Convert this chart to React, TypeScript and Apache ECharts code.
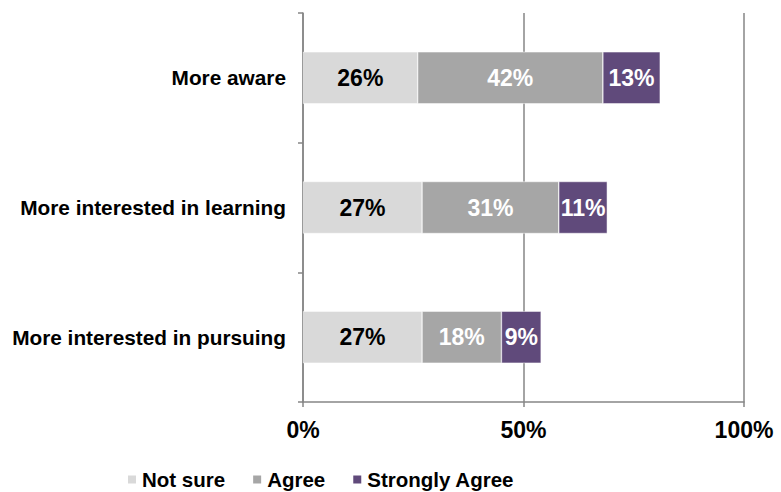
import React, { useEffect, useRef } from "react";
import * as echarts from "echarts";

const categories = ["More aware", "More interested in learning", "More interested in pursuing"];
const seriesNames = ["Not sure", "Agree", "Strongly Agree"];
const notSure = [26, 27, 27];
const agree = [42, 31, 18];
const stronglyAgree = [13, 11, 9];
const xTicks = [0, 50, 100];

const colors = ["#d9d9d9", "#a6a6a6", "#604a7b"];
const labelColors = ["#000000", "#ffffff", "#ffffff"];
const FONT = "'Liberation Sans', Arial, sans-serif";

export default function App() {
  const ref = useRef<HTMLDivElement>(null);
  useEffect(() => {
    if (!ref.current) return;
    const chart = echarts.init(ref.current, undefined, { renderer: "svg" });
    const data = [notSure, agree, stronglyAgree];
    chart.setOption({
      animation: false,
      textStyle: { fontFamily: FONT },
      grid: { left: 303, right: 37, top: 13, bottom: 90, containLabel: false },
      legend: {
        data: seriesNames,
        left: 126,
        top: 469,
        padding: 0,
        itemWidth: 10,
        itemHeight: 10,
        itemGap: 26,
        icon: "rect",
        textStyle: { fontFamily: FONT, fontSize: 20.5, fontWeight: "bold", color: "#000" },
      },
      xAxis: {
        type: "value",
        min: xTicks[0],
        max: xTicks[xTicks.length - 1],
        interval: 50,
        axisLine: { show: true, lineStyle: { color: "#868686", width: 1.5 } },
        axisTick: { show: true, length: 5, lineStyle: { color: "#868686", width: 1.5 } },
        splitLine: { show: true, lineStyle: { color: "#868686", width: 1.5 } },
        axisLabel: {
          formatter: (v: number) => v + "%",
          fontFamily: FONT,
          fontSize: 23,
          fontWeight: "bold",
          color: "#000",
          margin: 16,
        },
      },
      yAxis: {
        type: "category",
        data: categories,
        inverse: true,
        axisLine: { show: true, lineStyle: { color: "#868686", width: 1.5 } },
        axisTick: { show: true, length: 5, lineStyle: { color: "#868686", width: 1.5 } },
        axisLabel: {
          fontFamily: FONT,
          fontSize: 20.8,
          fontWeight: "bold",
          color: "#000",
          margin: 17,
        },
      },
      series: seriesNames.map((name, i) => ({
        name,
        type: "bar",
        stack: "total",
        barWidth: 52,
        data: data[i],
        itemStyle: { color: colors[i], borderColor: "#ffffff", borderWidth: 0.5 },
        label: {
          show: true,
          position: "inside",
          formatter: (p: any) => p.value + "%",
          fontFamily: FONT,
          fontSize: 23,
          fontWeight: "bold",
          color: labelColors[i],
        },
      })),
    });
    return () => chart.dispose();
  }, []);
  return <div ref={ref} style={{ width: 781, height: 492, position: "absolute", left: 0, top: 0 }} />;
}
